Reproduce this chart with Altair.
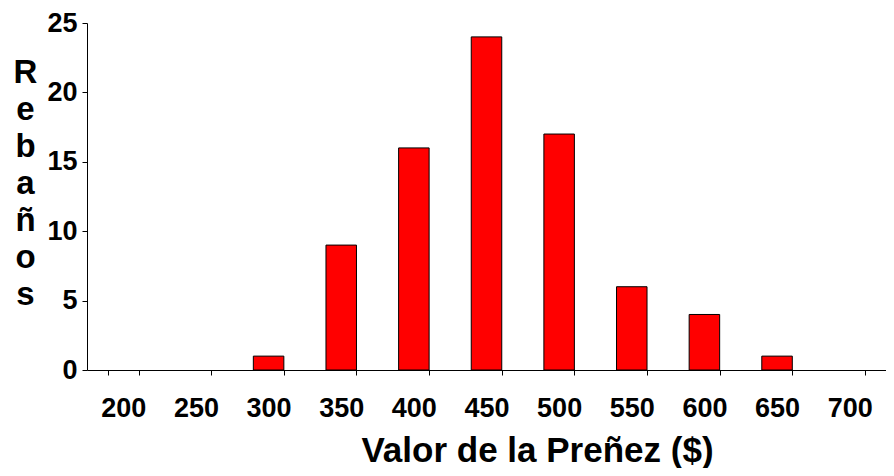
import altair as alt
import pandas as pd

categories = ["200", "250", "300", "350", "400", "450", "500", "550", "600", "650", "700"]
counts = [0, 0, 1, 9, 16, 24, 17, 6, 4, 1, 0]
y_ticks = [0, 5, 10, 15, 20, 25]
x_title = "Valor de la Preñez ($)"
y_title_letters = ["R", "e", "b", "a", "ñ", "o", "s"]

df = pd.DataFrame({"valor": categories, "rebanos": counts})

FONT = "Liberation Sans"

chart = alt.Chart(df).transform_filter(
    "datum.rebanos > 0"
).mark_bar(
    color="#FF0000", stroke="#000000", strokeWidth=1
).encode(
    x=alt.X(
        "valor:N",
        sort=categories,
        scale=alt.Scale(domain=categories, paddingInner=0.58, paddingOuter=0.29),
        axis=alt.Axis(
            title=x_title,
            labelAngle=0,
            tickBand="extent",
            ticks=True,
            tickSize=5,
            tickColor="#000000",
            domainColor="#000000",
            labelPadding=20,
            labelFontSize=27,
            labelFont=FONT,
            labelFontWeight="bold",
            labelColor="#000000",
            titleFont=FONT,
            titleFontSize=35,
            titleFontWeight="bold",
            titleColor="#000000",
            titleX=450,
            titleY=91,
            titleAlign="center",
            titleBaseline="alphabetic",
            grid=False,
        ),
    ),
    y=alt.Y(
        "rebanos:Q",
        scale=alt.Scale(domain=[0, 25], nice=False),
        axis=alt.Axis(
            values=y_ticks,
            title=y_title_letters,
            titleAngle=0,
            titleX=-62,
            titleY=59,
            titleAlign="center",
            titleBaseline="alphabetic",
            titleLineHeight=37,
            titleFont=FONT,
            titleFontSize=33,
            titleFontWeight="bold",
            titleColor="#000000",
            tickSize=5,
            tickColor="#000000",
            domainColor="#000000",
            labelPadding=5,
            labelFontSize=27,
            labelFont=FONT,
            labelFontWeight="bold",
            labelColor="#000000",
            grid=False,
        ),
    ),
).properties(
    width=799,
    height=347,
    autosize=alt.AutoSizeParams(type="none"),
    padding={"left": 79, "top": 15, "right": 0, "bottom": 98},
).configure_view(strokeWidth=0)

chart.save("out.html", embed_options={"renderer": "svg", "actions": False})
